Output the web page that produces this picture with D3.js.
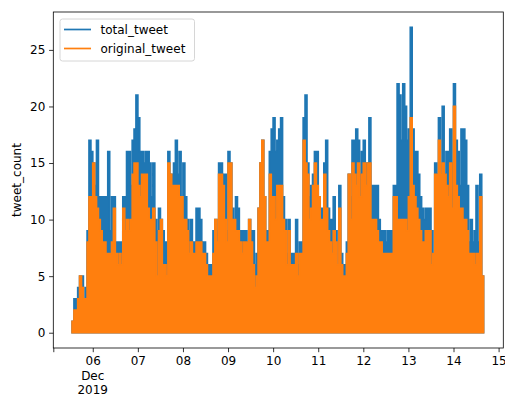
<!DOCTYPE html>
<html>
<head>
<meta charset="utf-8">
<script src="https://cdn.jsdelivr.net/npm/d3@7"></script>
<style>
  html, body { margin: 0; padding: 0; background: #fff; }
  svg { display: block; font-family: "DejaVu Sans", sans-serif; }
</style>
</head>
<body>
<svg id="chart" width="505" height="396"></svg>
<script>
// ---- data (hourly maxima, starting 2019-12-05 13:00 UTC) ----
const startTime = "2019-12-05T13:00:00Z";
const totalTweet = [
  1,3,3,4,5,5,3,4,9,17,16,
  15,13,17,12,12,12,12,12,16,9,12,12,8,8,8,8,12,12,16,
  16,13,17,18,21,19,16,16,15,16,16,15,12,15,10,9,11,10,9,8,8,16,14,14,15,17,14,16,12,15,12,10,
  9,10,8,8,11,11,10,8,8,7,6,6,6,9,10,9,15,15,14,14,9,16,15,11,10,12,11,9,9,9,9,8,10,
  9,9,6,7,11,15,17,12,9,9,16,18,19,16,17,18,19,12,10,7,10,7,7,7,10,6,8,8,19,21,15,12,
  13,14,16,16,12,11,11,15,17,11,10,10,12,9,6,13,7,6,6,8,14,12,17,17,18,17,14,16,17,15,15,19,
  13,13,13,13,10,9,9,9,8,9,9,9,13,13,22,21,17,22,20,17,18,27,18,16,16,14,12,11,10,11,11,11,
  9,7,15,14,19,14,20,14,16,16,18,15,22,17,16,13,18,18,17,13,8,10,8,9,13,8,14,5
];
const originalTweet = [
  1,2,2,3,5,4,3,3,8,12,12,
  15,12,11,10,9,8,8,7,7,7,8,11,7,6,7,6,11,9,10,
  9,10,14,15,15,13,12,14,14,14,11,10,10,11,8,5,9,10,6,6,5,15,14,13,13,13,13,12,12,10,10,9,
  7,8,7,7,8,8,8,7,7,6,5,5,5,7,10,8,14,14,13,10,8,15,15,10,10,9,9,8,7,8,8,8,10,
  8,6,4,5,11,15,17,12,8,8,14,12,12,10,13,13,13,10,9,6,9,6,6,6,7,5,7,7,17,15,14,10,
  11,13,15,13,12,10,10,14,11,9,8,7,9,8,6,11,6,5,5,7,14,10,15,14,13,15,12,14,15,13,15,15,
  10,10,10,9,8,8,7,7,7,7,7,7,12,12,10,10,10,10,10,9,12,19,13,12,11,10,9,8,8,9,9,9,
  6,7,14,14,17,14,15,14,13,12,15,11,20,13,12,11,11,10,10,9,7,7,7,6,7,7,12,5
];
const seriesNames = ["total_tweet", "original_tweet"];
const seriesColors = ["#1f77b4", "#ff7f0e"];
const xTickDays = ["2019-12-06","2019-12-07","2019-12-08","2019-12-09","2019-12-10",
                   "2019-12-11","2019-12-12","2019-12-13","2019-12-14","2019-12-15"];
const xTickLabels = ["06","07","08","09","10","11","12","13","14","15"];
const yTicks = [0, 5, 10, 15, 20, 25];
const xDomain = ["2019-12-05T03:00:00Z", "2019-12-15T02:30:00Z"];
const yDomain = [-1.35, 28.35];

// ---- layout ----
const svg = d3.select("#chart");
const L = 53.3, R = 503.3, T = 12, B = 348;
const FONT = 12;
const TICK = 4.2, PAD = 3.8;

const parseIso = d => new Date(d);
const t0 = parseIso(startTime);
const times = totalTweet.map((_, i) => d3.utcHour.offset(t0, i));
const endTime = d3.utcHour.offset(t0, totalTweet.length);

const x = d3.scaleUtc().domain(xDomain.map(parseIso)).range([L, R]);
const y = d3.scaleLinear().domain(yDomain).range([B, T]);

function stepData(vals) {
  const d = vals.map((v, i) => ({ t: times[i], v }));
  d.push({ t: endTime, v: vals[vals.length - 1] });
  return d;
}

const area = d3.area()
  .curve(d3.curveStepAfter)
  .x(d => x(d.t))
  .y0(y(0))
  .y1(d => y(d.v));

const plot = svg.append("g");
[totalTweet, originalTweet].forEach((vals, k) => {
  plot.append("path")
    .datum(stepData(vals))
    .attr("d", area)
    .attr("fill", seriesColors[k])
    .attr("stroke", seriesColors[k])
    .attr("stroke-width", 1.7)
    .attr("stroke-linejoin", "miter");
});

// ---- axes ----
const tickDates = xTickDays.map(d => parseIso(d + "T00:00:00Z"));
const xAxis = d3.axisBottom(x)
  .tickValues([parseIso(xDomain[0])].concat(tickDates))
  .tickFormat((d, i) => i === 0 ? "" : xTickLabels[i - 1])
  .tickSize(TICK).tickPadding(PAD);
const gx = svg.append("g").attr("transform", `translate(0,${B})`).call(xAxis);
gx.select(".domain").remove();
gx.selectAll("line").attr("stroke", "#000").attr("stroke-width", 0.8);
gx.selectAll("text").attr("fill", "#000").style("font-size", FONT + "px")
  .style("font-family", "DejaVu Sans");

// extra date lines under first labelled tick
["Dec", "2019"].forEach((s, i) => {
  svg.append("text")
    .attr("x", x(tickDates[0]))
    .attr("y", 380 + i * 14)
    .attr("text-anchor", "middle")
    .style("font-size", FONT + "px")
    .attr("fill", "#000")
    .text(s);
});

const yAxis = d3.axisLeft(y).tickValues(yTicks).tickFormat(d3.format("d"))
  .tickSize(TICK).tickPadding(PAD);
const gy = svg.append("g").attr("transform", `translate(${L},0)`).call(yAxis);
gy.select(".domain").remove();
gy.selectAll("line").attr("stroke", "#000").attr("stroke-width", 0.8);
gy.selectAll("text").attr("fill", "#000").style("font-size", FONT + "px")
  .style("font-family", "DejaVu Sans");

// frame
svg.append("rect")
  .attr("x", L).attr("y", T).attr("width", R - L).attr("height", B - T)
  .attr("fill", "none").attr("stroke", "#000").attr("stroke-width", 0.8);

// y label
svg.append("text")
  .attr("transform", `translate(20.5,${(T + B) / 2}) rotate(-90)`)
  .attr("text-anchor", "middle")
  .style("font-size", FONT + "px")
  .attr("fill", "#000")
  .text("tweet_count");

// ---- legend ----
const lg = svg.append("g");
lg.append("rect")
  .attr("x", 60).attr("y", 19).attr("width", 134.5).attr("height", 42)
  .attr("rx", 2.5).attr("ry", 2.5)
  .attr("fill", "rgba(255,255,255,0.8)")
  .attr("stroke", "#cccccc").attr("stroke-width", 0.8);
seriesNames.forEach((name, i) => {
  const yy = 29.5 + i * 19;
  lg.append("line")
    .attr("x1", 64).attr("x2", 91).attr("y1", yy).attr("y2", yy)
    .attr("stroke", seriesColors[i]).attr("stroke-width", 1.7);
  lg.append("text")
    .attr("x", 100.5).attr("y", yy + 4.3)
    .style("font-size", FONT + "px")
    .attr("fill", "#000")
    .text(name);
});
</script>
</body>
</html>
